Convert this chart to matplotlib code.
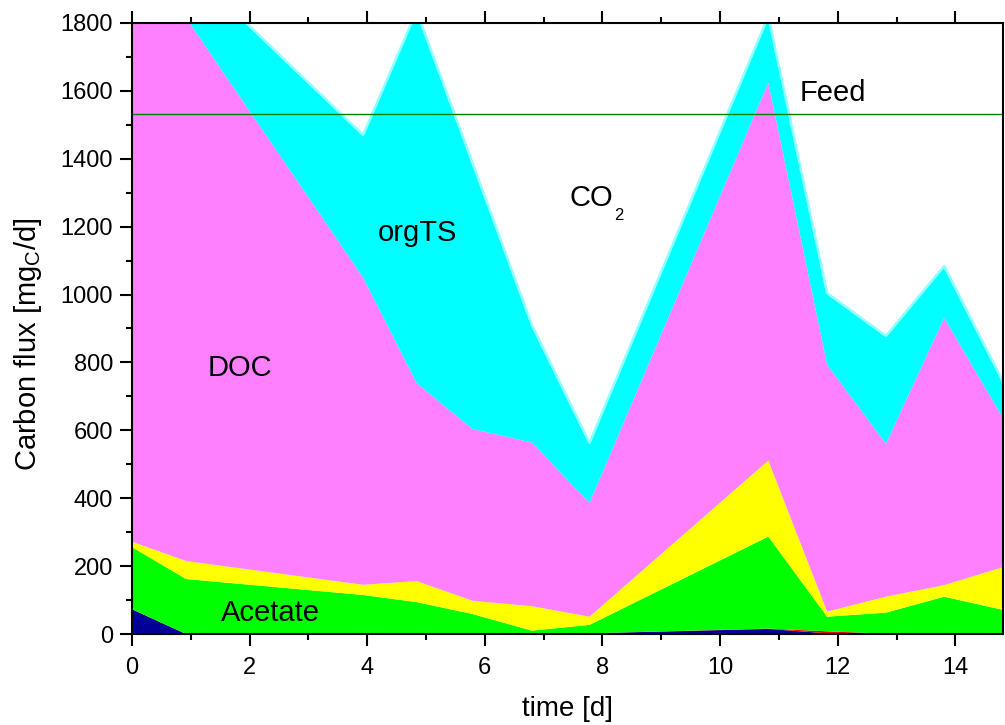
import matplotlib
matplotlib.use('Agg')
import matplotlib.pyplot as plt
from matplotlib.ticker import MultipleLocator

plt.rcParams['font.family'] = ['Liberation Sans', 'DejaVu Sans']
plt.rcParams['mathtext.fontset'] = 'custom'
plt.rcParams['mathtext.rm'] = 'Liberation Sans'
plt.rcParams['mathtext.it'] = 'Liberation Sans'

# time points [d]
days = [0, 0.92, 3.93, 4.84, 5.79, 6.8, 7.78, 10.82, 11.82, 12.82, 13.81, 14.81]

# carbon flux per fraction [mgC/d], stacked bottom to top
navy = [73, 0, 0, 0, 0, 0, 2, 15, 2, 0, 0, 0]
red = [0, 0, 0, 0, 0, 0, 0, 1, 6, 1, 0, 0]
acetate = [183, 162, 115, 94, 59, 10, 25, 271, 43, 62, 110, 71]
yellow = [16, 53, 30, 62, 39, 72, 24, 224, 15, 47, 34, 126]
doc = [1728, 1600, 905, 583, 506, 482, 335, 1113, 727, 450, 787, 439]
orgts = [150, 155, 420, 1096, 784, 346, 177, 196, 211, 318, 153, 107]

feed = 1531

layers = [navy, red, acetate, yellow, doc, orgts]
colors = ['#000099', '#ff0000', '#00ff00', '#ffff00', '#ff80ff', '#00ffff']

fig = plt.figure(figsize=(10.05, 7.25), dpi=100)
ax = fig.add_axes([0.1313, 0.1255, 0.8667, 0.8428])

ax.stackplot(days, *layers, colors=colors, linewidth=0, antialiased=True)

# light edge on top of the orgTS band
total = [sum(v) for v in zip(*layers)]
ax.plot(days, total, color='#90ffff', lw=1.8, zorder=3)

ax.axhline(feed, color='#008000', lw=1.0, zorder=4)

fs = 21
ax.text(11.92, 1594, 'Feed', fontsize=fs, ha='center', va='center')
ax.text(7.81, 1285, 'CO', fontsize=fs, ha='center', va='center')
ax.text(8.28, 1232, '2', fontsize=12, ha='center', va='center')
ax.text(4.86, 1182, 'orgTS', fontsize=fs, ha='center', va='center')
ax.text(1.84, 784, 'DOC', fontsize=fs, ha='center', va='center')
ax.text(2.35, 63, 'Acetate', fontsize=fs, ha='center', va='center')

ax.set_xlim(0, 14.81)
ax.set_ylim(0, 1800)
ax.xaxis.set_major_locator(MultipleLocator(2))
ax.xaxis.set_minor_locator(MultipleLocator(1))
ax.yaxis.set_major_locator(MultipleLocator(200))
ax.yaxis.set_minor_locator(MultipleLocator(100))

ax.tick_params(which='both', direction='out', width=1.5, top=True, right=False,
               labelsize=17)
ax.tick_params(which='major', length=8.6)
ax.tick_params(which='minor', length=4.3)
ax.tick_params(axis='x', pad=8)
ax.tick_params(axis='y', pad=5)
for s in ax.spines.values():
    s.set_linewidth(1.5)
    s.set_zorder(5)

ax.set_xlabel('time [d]', fontsize=20)
ax.set_ylabel(r'Carbon flux [mg$_\mathrm{C}$/d]', fontsize=21)
ax.xaxis.set_label_coords(0.5, -0.102)
ax.yaxis.set_label_coords(-0.1015, 0.475)

fig.savefig('out.png', dpi=100)
